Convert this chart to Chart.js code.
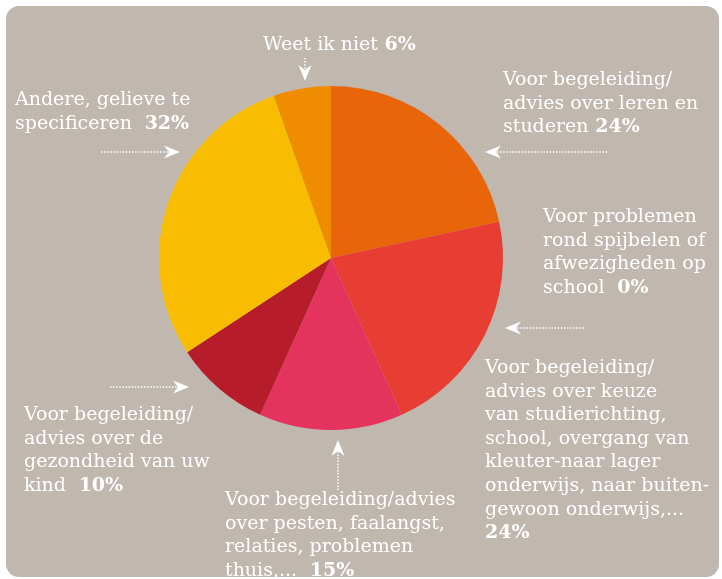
<!DOCTYPE html>
<html>
<head>
<meta charset="utf-8">
<script src="https://cdn.jsdelivr.net/npm/chart.js@4"></script>
<style>
  html, body { margin: 0; padding: 0; background: #ffffff; }
  #wrap { position: relative; width: 722px; height: 579px; }
  #panel {
    position: absolute; left: 6px; top: 6px; width: 713px; height: 571px;
    background: #c0b7ae; border-radius: 13px;
  }
  #chart { position: absolute; left: 0; top: 0; }
</style>
</head>
<body>
<div id="wrap">
  <div id="panel"></div>
  <canvas id="chart" width="722" height="579"></canvas>
</div>
<script>
// answers, clockwise from the top
const categories = [
  ['Voor begeleiding/', 'advies over leren en', 'studeren'],
  ['Voor begeleiding/', 'advies over keuze', 'van studierichting,', 'school, overgang van', 'kleuter-naar lager', 'onderwijs, naar buiten-', 'gewoon onderwijs,...', ''],
  ['Voor problemen', 'rond spijbelen of', 'afwezigheden op', 'school '],
  ['Voor begeleiding/advies', 'over pesten, faalangst,', 'relaties, problemen', 'thuis,... '],
  ['Voor begeleiding/', 'advies over de', 'gezondheid van uw', 'kind '],
  ['Andere, gelieve te', 'specificeren '],
  ['Weet ik niet']
];
const values = [24, 24, 0, 15, 10, 32, 6];
const colors = ['#e8650a', '#e73d33', '#e73d33', '#e4335c', '#b71c2b', '#f8bd00', '#f08c00'];

// where each label block sits and where its arrow points
const labelPos = [
  { x: 503, y: 85,  arrow: { x1: 607, y1: 152, x2: 485, y2: 152 } },
  { x: 485, y: 373, arrow: null },
  { x: 543, y: 222, arrow: { x1: 584, y1: 328, x2: 505, y2: 328 } },
  { x: 225, y: 505, arrow: { x1: 338, y1: 490, x2: 338, y2: 440 } },
  { x: 24,  y: 420, arrow: { x1: 110, y1: 387, x2: 189, y2: 387 } },
  { x: 15,  y: 105, arrow: { x1: 101, y1: 152, x2: 180, y2: 152 } },
  { x: 263, y: 50,  arrow: { x1: 305, y1: 58,  x2: 305, y2: 81 } }
];
const lineH = 23.6;
const font = '"DejaVu Serif", Georgia, serif';

function drawArrow(ctx, a) {
  const ang = Math.atan2(a.y2 - a.y1, a.x2 - a.x1);
  const len = Math.hypot(a.x2 - a.x1, a.y2 - a.y1);
  ctx.save();
  ctx.translate(a.x1, a.y1);
  ctx.rotate(ang);
  ctx.strokeStyle = '#ffffff';
  ctx.fillStyle = '#ffffff';
  ctx.lineWidth = 1.5;
  ctx.setLineDash([1.5, 1.6]);
  ctx.beginPath();
  ctx.moveTo(0, 0);
  ctx.lineTo(len - 8, 0);
  ctx.stroke();
  ctx.setLineDash([]);
  // notched arrow head
  ctx.beginPath();
  ctx.moveTo(len, 0);
  ctx.lineTo(len - 16, -6.5);
  ctx.lineTo(len - 11, 0);
  ctx.lineTo(len - 16, 6.5);
  ctx.closePath();
  ctx.fill();
  ctx.restore();
}

const calloutPlugin = {
  id: 'callouts',
  afterDraw(chart) {
    const ctx = chart.ctx;
    ctx.save();
    ctx.textBaseline = 'alphabetic';
    ctx.fillStyle = '#ffffff';
    categories.forEach((lines, i) => {
      const p = labelPos[i];
      lines.forEach((t, j) => {
        const y = p.y + j * lineH;
        ctx.font = '19px ' + font;
        ctx.fillText(t, p.x, y);
        if (j === lines.length - 1) {
          const w = ctx.measureText(t).width;
          ctx.font = 'bold 19px ' + font;
          ctx.fillText((t ? ' ' : '') + values[i] + '%', p.x + w, y);
        }
      });
      if (p.arrow) drawArrow(ctx, p.arrow);
    });
    ctx.restore();
  }
};

new Chart(document.getElementById('chart'), {
  type: 'pie',
  data: {
    labels: categories,
    datasets: [{
      data: values,
      backgroundColor: colors,
      borderWidth: 0
    }]
  },
  options: {
    responsive: false,
    animation: false,
    layout: { padding: { top: 86, bottom: 149, left: 159, right: 219 } },
    plugins: {
      legend: { display: false },
      tooltip: { enabled: false }
    }
  },
  plugins: [calloutPlugin]
});
</script>
</body>
</html>
